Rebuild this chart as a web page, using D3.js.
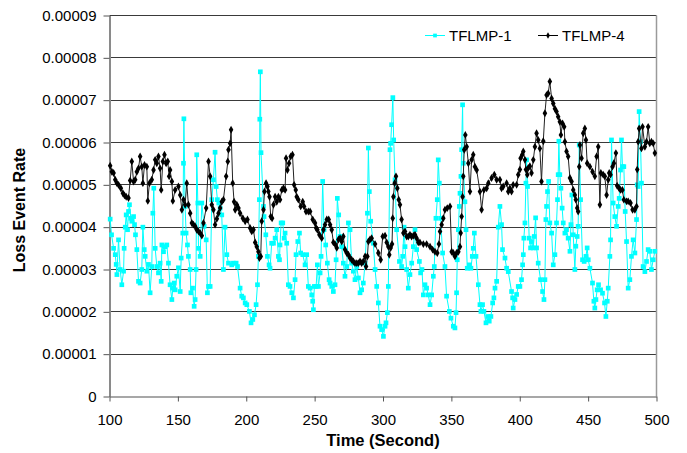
<!DOCTYPE html>
<html><head><meta charset="utf-8">
<script src="https://cdn.jsdelivr.net/npm/d3@7"></script>
<style>
html,body{margin:0;padding:0;background:#fff;}
svg{display:block;font-family:"Liberation Sans",Arial,Helvetica,sans-serif;}
</style></head><body>
<svg id="chart" width="687" height="453"></svg>
<script>
// ---------- data ----------
const xTicks = [100, 150, 200, 250, 300, 350, 400, 450, 500];
const yTicks = [0, 0.00001, 0.00002, 0.00003, 0.00004, 0.00005, 0.00006, 0.00007, 0.00008, 0.00009];
const yTickLabels = ["0", "0.00001", "0.00002", "0.00003", "0.00004", "0.00005", "0.00006", "0.00007", "0.00008", "0.00009"];
const seriesNames = ["TFLMP-1", "TFLMP-4"];
const xTitle = "Time (Second)";
const yTitle = "Loss Event Rate";

const tflmp1Time = [100.5,101.5,103,104.2,104.9,105.4,106.6,107.8,109,110.3,110.7,111.5,112.2,113.2,113.9,114.6,115.6,116.3,117.6,118.3,119,120,121.2,122.4,123.6,124.4,125.4,126.1,127.3,128.5,129.7,130.9,131.7,132.4,133.4,134.6,135.8,137,137.8,138.3,139.5,140.7,141.9,143.1,144.3,145.6,146.3,147.3,148,149.2,150.4,151.7,152.4,153.6,154.1,154.4,155.3,156,157,157.7,159,159.5,160.7,161.9,162.6,163.3,163.8,164.6,165.1,166.3,167.5,169.2,170.7,171.6,172.4,173.6,174.8,176,177.2,178,178.9,179.9,180.9,182.1,183.3,184.5,185.8,187,
189.4,190.6,192.6,193.6,195.5,196.7,197.9,199.2,200.4,202.3,203.5,204.8,206,207.2,208.2,208.9,209.6,209.9,210.3,210.8,212.6,213,214.3,215.5,216.7,217.4,218.6,219.9,221.1,222.3,223.5,224.3,224.7,225.5,226.7,227.7,228.4,229.6,230.8,232,233.3,234.5,235.7,236.4,237.7,238.9,239.8,241.3,243,244.2,245.4,246.7,247.9,248.6,249.1,249.8,251.1,252,252.8,254,254.7,255.9,256.9,258.1,259.3,260.6,261.3,262.5,263.7,264.9,265.7,266.6,267.6,268.6,269.8,271,272.2,273.5,274.7,275.9,277.1,278.3,279.5,280.8,282,
283.2,284.4,285.6,286.9,288.6,289.3,290,291,292.9,294.2,295.4,296.6,297.8,299,300.3,301.5,302.2,303.2,303.9,305.1,305.6,306.3,307.2,307.8,308.8,310,312,313.6,314.4,315.4,316.1,317.3,318.5,319.7,321,322.2,323.4,324.6,326.6,327.5,328.5,329.5,330.7,331.9,333.1,334.4,335.6,336.8,337.5,338.7,339.7,340.4,341.2,342.1,343.6,345.3,346.5,348.5,349.7,351.4,352.6,353.4,353.8,354.3,355.1,355.8,356.3,357,357.5,358.2,358.7,359.9,360.7,361.6,363.1,364.3,365.3,366,366.8,368,369.7,370.9,371.6,372.8,373.8,375.3,376.5,377.7,378.9,380.2,381.1,381.9,383.1,384.3,
385.5,386.7,387.4,389.2,390.4,391.6,394,394.8,395.2,396.5,397.7,398.9,400.1,401.3,402.1,402.6,403,403.8,404.5,405,405.7,406.9,407.9,408.6,409.9,410.6,411.6,412.3,413.5,415.2,416.7,417.7,418.4,419.1,419.6,420.3,421.1,422,423.3,424.5,425.7,426.9,427.6,428.1,428.6,429.3,430.1,431,431.8,433,434.2,435.4,436.7,437.4,438.1,439.1,440.3,441,442,442.7,443.5,444.5,445.9,447.1,448.4,449.3,450.1,451.3,453.2,454.2,454.9,455.7,456.6,457.6,459.1,460.5,462,463,464,464.7,465.9,466.4,467.1,468.3,469.5,470.8,472,472.7,473.7,474.4,475.1,476.1,477.1,478.1,479.3,480.5,481.7,482.9,484.2,485.4,485.9,486.6,487.3,488.3,489,490.2,491.5,492.7,493.9,495.1,496.3,497.6,498.8];

const tflmp1Rate = [4.19e-5,3.82e-5,3.5e-5,3.35e-5,3.12e-5,2.88e-5,3.7e-5,3.0e-5,2.64e-5,2.96e-5,3.5e-5,4.0e-5,4.29e-5,3.94e-5,4.37e-5,4.53e-5,4.21e-5,4.14e-5,4.25e-5,4.06e-5,3.82e-5,3.47e-5,2.72e-5,2.68e-5,3.0e-5,4.0e-5,3.47e-5,3.31e-5,2.96e-5,3.12e-5,2.45e-5,3.07e-5,4.33e-5,4.92e-5,3.5e-5,3.07e-5,2.92e-5,3.15e-5,2.72e-5,3.58e-5,3.42e-5,3.54e-5,3.58e-5,3.15e-5,2.64e-5,2.29e-5,2.56e-5,2.68e-5,2.52e-5,2.84e-5,3.04e-5,2.48e-5,3.27e-5,3.86e-5,5.51e-5,6.56e-5,4.49e-5,3.86e-5,3.58e-5,3.31e-5,3.0e-5,2.45e-5,2.56e-5,2.13e-5,2.29e-5,3.0e-5,5.71e-5,4.57e-5,3.5e-5,3.31e-5,4.57e-5,4.02e-5,3.7e-5,2.45e-5,2.6e-5,2.6e-5,4.65e-5,5.12e-5,5.77e-5,4.96e-5,4.65e-5,4.57e-5,4.45e-5,4.29e-5,3.0e-5,4.0e-5,3.35e-5,3.15e-5,
3.11e-5,3.15e-5,3.15e-5,3.07e-5,2.56e-5,2.37e-5,2.33e-5,2.21e-5,2.17e-5,2.01e-5,1.74e-5,1.82e-5,1.93e-5,2.17e-5,2.64e-5,3.31e-5,4.65e-5,6.55e-5,7.67e-5,5.76e-5,4.49e-5,4.25e-5,3.82e-5,3.31e-5,3.11e-5,3.03e-5,3.62e-5,3.62e-5,3.74e-5,3.94e-5,3.31e-5,3.23e-5,3.58e-5,4.1e-5,4.1e-5,3.74e-5,3.86e-5,3.62e-5,2.64e-5,2.6e-5,2.45e-5,2.33e-5,2.76e-5,3.35e-5,3.66e-5,3.86e-5,3.39e-5,3.35e-5,3.11e-5,3.35e-5,2.6e-5,2.56e-5,2.4e-5,2.25e-5,2.05e-5,2.6e-5,2.6e-5,3.11e-5,2.6e-5,2.92e-5,3.31e-5,5.08e-5,3.94e-5,3.58e-5,3.15e-5,2.76e-5,2.68e-5,2.6e-5,2.48e-5,2.64e-5,3.23e-5,4.68e-5,4.29e-5,3.78e-5,3.54e-5,3.15e-5,2.84e-5,3.07e-5,4.1e-5,3.94e-5,3.15e-5,2.96e-5,2.76e-5,3.07e-5,2.8e-5,
2.45e-5,2.52e-5,2.68e-5,3.15e-5,4.33e-5,5.87e-5,4.84e-5,4.14e-5,3.62e-5,3.0e-5,2.6e-5,2.21e-5,1.66e-5,1.58e-5,1.42e-5,1.66e-5,1.74e-5,1.98e-5,2.6e-5,5.83e-5,5.98e-5,6.42e-5,7.06e-5,6.06e-5,5.12e-5,3.94e-5,3.19e-5,3.07e-5,3.31e-5,4.0e-5,3.54e-5,3.0e-5,2.56e-5,2.88e-5,3.15e-5,3.54e-5,3.94e-5,3.47e-5,3.19e-5,2.92e-5,3.0e-5,2.4e-5,2.64e-5,2.56e-5,2.4e-5,2.17e-5,2.4e-5,2.84e-5,3.07e-5,4.21e-5,4.65e-5,5.59e-5,5.04e-5,4.21e-5,3.39e-5,3.07e-5,2.37e-5,2.01e-5,1.85e-5,1.66e-5,1.62e-5,1.98e-5,2.45e-5,3.23e-5,3.94e-5,4.49e-5,4.8e-5,5.2e-5,5.83e-5,6.89e-5,5.51e-5,4.6e-5,3.94e-5,3.03e-5,3.11e-5,3.03e-5,3.31e-5,3.5e-5,3.86e-5,3.31e-5,2.64e-5,2.17e-5,2.01e-5,2.17e-5,2.01e-5,1.74e-5,1.89e-5,1.78e-5,1.89e-5,2.21e-5,2.33e-5,2.56e-5,2.72e-5,4.0e-5,
4.49e-5,4.06e-5,3.47e-5,3.27e-5,3.03e-5,2.95e-5,2.48e-5,2.33e-5,2.09e-5,2.29e-5,2.41e-5,2.6e-5,2.6e-5,2.76e-5,3.11e-5,3.35e-5,3.74e-5,4.1e-5,5.04e-5,5.59e-5,4.96e-5,3.74e-5,3.51e-5,3.66e-5,3.51e-5,3.78e-5,4.22e-5,3.51e-5,3.15e-5,2.76e-5,2.48e-5,2.29e-5,2.76e-5,4.18e-5,4.49e-5,4.84e-5,5.08e-5,4.1e-5,3.86e-5,3.11e-5,3.35e-5,4.1e-5,4.65e-5,5.24e-5,6.03e-5,5.24e-5,4.92e-5,4.45e-5,4.1e-5,3.86e-5,3.94e-5,3.74e-5,3.43e-5,4.06e-5,4.76e-5,3.82e-5,3.0e-5,3.55e-5,3.78e-5,4.02e-5,5.94e-5,4.65e-5,3.23e-5,3.19e-5,3.31e-5,3.51e-5,3.23e-5,3.03e-5,2.68e-5,2.25e-5,2.09e-5,2.29e-5,2.52e-5,2.64e-5,2.52e-5,2.44e-5,2.21e-5,1.89e-5,2.25e-5,2.56e-5,3.31e-5,3.7e-5,6.06e-5,4.57e-5,4.25e-5,4.02e-5,4.49e-5,4.68e-5,5.35e-5,6.06e-5,5.43e-5,5.43e-5,4.37e-5,3.66e-5,2.56e-5,2.76e-5,3.31e-5,3.7e-5,3.39e-5,4.18e-5,5.0e-5,4.96e-5,6.73e-5,6.02e-5,5.04e-5,3.07e-5,2.95e-5,3.19e-5,3.47e-5,3.43e-5,3.0e-5,3.23e-5,3.43e-5];

const tflmp4Time = [100.5,101.7,103,104.2,105.4,106.6,108.3,109.8,111,112.2,113.9,115.1,116.3,117.6,118.8,120,121.2,122.4,123.6,124.4,125.6,127.3,128,129.2,130.9,132.2,133.4,134.6,135.8,137,137.8,139,140.2,141.4,142.6,143.6,144.3,145.6,146.3,148,150.4,151.7,152.9,154.1,155.3,156.5,157.7,159,160.2,161.4,162.6,163.8,165.1,166.3,167.5,168.7,170.7,172.4,173.6,174.8,176,177.2,178.5,179.7,180.9,182.1,183.3,185.3,186.5,187,188.2,188.9,
190.1,191.1,191.9,193.1,194.3,195.5,197.5,199.2,200.9,202.8,204,205.3,206.5,207.7,208.9,209.6,210.6,211.3,212.6,213.3,214.5,215.5,216.2,217,217.9,218.9,219.9,221.1,222.3,223.5,224.7,226,227.2,228.4,229.1,230.1,231.3,232.5,233.8,235,236.2,236.9,238.1,239.8,241.3,242.3,243.7,245.4,246.7,248.6,250.3,251.1,252,253.5,255.2,256.4,257.6,258.9,260.3,261.3,262.5,263.7,264.9,266.2,267.4,268.6,269.8,271,272.2,273.5,274.7,275.9,277.1,278.3,279.5,280.8,282,
283.2,284.4,285.6,286.9,287.6,288.6,289.3,290.5,291.7,294.2,296.6,298.3,299.8,301.5,302.7,303.9,304.6,305.6,306.6,307.1,307.6,308.5,309.5,310.5,311.5,312.4,313.6,314.9,316.1,317.3,318.5,319.7,320.9,322.2,323.4,324.6,325.8,327,329.5,331.9,334.4,336.3,338,339.7,340.9,341.7,342.9,344.1,345.3,347,349,350.2,351.4,352.6,353.8,355.1,356.3,356.8,357.5,358.2,358.7,359.4,360.2,361.2,362.4,363.6,364.8,366,367.2,368.5,370.9,372.1,373.8,375.8,377,379.4,381.4,383.1,
385.5,386.7,387.9,390.4,391.6,392.8,394,395.2,397.7,398.9,400.1,400.6,401.8,402.6,403.8,404.5,405.5,406.2,407.4,408.6,409.9,411.1,412.3,413.5,414.7,415.9,417.2,418.4,419.6,420.8,422,423.3,424.5,425.7,426.9,428.1,429.3,430.1,431.3,432.5,433,434.2,435.4,436.7,437.9,439.1,440.3,441,442,442.7,443.5,444,445.2,446.4,447.6,448.4,449.3,451.3,453.2,454.9,456.2,457.4,458.6,459.3,461,462.2,463.5,464.7,465.4,466.4,467.8,468.8,470.3,471.2,472.7,473.7,475.1,476.1,478.1,479.3,481,482.5,484.2,485.4,485.9,486.6,487.3,489,489.8,491.5,492.7,493.9,495.1,496.3,497.6,498.8];

const tflmp4Rate = [5.45e-5,5.31e-5,5.28e-5,5.12e-5,5.04e-5,5.0e-5,4.92e-5,4.8e-5,4.75e-5,4.72e-5,4.69e-5,5.1e-5,5.55e-5,5.08e-5,5.12e-5,5.31e-5,5.39e-5,5.67e-5,5.43e-5,5.04e-5,5.47e-5,5.43e-5,4.62e-5,5.04e-5,5.12e-5,5.35e-5,5.59e-5,5.51e-5,5.67e-5,5.39e-5,4.88e-5,5.55e-5,5.71e-5,5.51e-5,5.55e-5,5.2e-5,5.35e-5,5.08e-5,4.62e-5,4.88e-5,4.96e-5,4.76e-5,4.41e-5,4.65e-5,4.53e-5,5.04e-5,4.53e-5,4.33e-5,4.1e-5,4.06e-5,4.02e-5,3.94e-5,3.9e-5,3.86e-5,3.8e-5,4.1e-5,4.45e-5,5.55e-5,5.2e-5,4.53e-5,4.41e-5,4.06e-5,4.2e-5,4.33e-5,4.45e-5,4.6e-5,4.65e-5,5.2e-5,5.55e-5,5.83e-5,5.98e-5,6.3e-5,
5.04e-5,4.6e-5,4.41e-5,4.53e-5,4.45e-5,4.33e-5,4.21e-5,4.14e-5,4.18e-5,3.98e-5,3.9e-5,3.94e-5,3.64e-5,3.54e-5,3.42e-5,3.27e-5,3.31e-5,4.14e-5,4.41e-5,4.84e-5,5.04e-5,4.96e-5,4.84e-5,4.72e-5,4.25e-5,4.21e-5,4.53e-5,4.72e-5,4.6e-5,4.72e-5,4.65e-5,4.88e-5,4.92e-5,4.88e-5,5.63e-5,5.35e-5,5.51e-5,5.67e-5,5.71e-5,5.0e-5,4.88e-5,4.72e-5,4.65e-5,4.49e-5,4.6e-5,4.49e-5,4.37e-5,4.37e-5,4.37e-5,4.18e-5,4.1e-5,3.98e-5,3.94e-5,3.82e-5,3.74e-5,3.94e-5,4.06e-5,4.18e-5,4.18e-5,4.06e-5,3.94e-5,3.64e-5,3.6e-5,3.51e-5,3.71e-5,3.74e-5,3.66e-5,3.78e-5,3.47e-5,3.39e-5,3.35e-5,3.27e-5,3.23e-5,3.19e-5,3.15e-5,3.15e-5,3.15e-5,
3.19e-5,3.15e-5,3.19e-5,3.31e-5,3.07e-5,3.31e-5,3.66e-5,3.71e-5,3.74e-5,3.6e-5,3.39e-5,3.23e-5,3.78e-5,3.8e-5,3.64e-5,3.54e-5,3.35e-5,3.51e-5,3.6e-5,4.21e-5,4.72e-5,5.04e-5,5.2e-5,4.92e-5,4.65e-5,4.53e-5,4.18e-5,3.86e-5,3.9e-5,3.78e-5,3.78e-5,3.82e-5,3.78e-5,3.8e-5,3.82e-5,3.74e-5,3.64e-5,3.64e-5,3.6e-5,3.6e-5,3.54e-5,3.47e-5,3.42e-5,3.39e-5,3.6e-5,3.9e-5,4.06e-5,4.21e-5,4.41e-5,4.45e-5,4.49e-5,3.42e-5,3.39e-5,3.31e-5,3.39e-5,3.42e-5,3.54e-5,3.86e-5,4.25e-5,4.72e-5,5.2e-5,5.83e-5,6.18e-5,5.9e-5,5.51e-5,4.84e-5,5.59e-5,5.71e-5,5.43e-5,5.35e-5,4.84e-5,4.41e-5,4.88e-5,4.92e-5,5.04e-5,5.16e-5,5.24e-5,5.12e-5,
5.12e-5,4.92e-5,4.96e-5,5.04e-5,4.84e-5,4.92e-5,4.84e-5,5.0e-5,5.0e-5,5.24e-5,5.36e-5,5.63e-5,5.71e-5,5.79e-5,5.59e-5,5.36e-5,5.24e-5,5.4e-5,5.44e-5,5.28e-5,5.59e-5,5.9e-5,6.22e-5,6.06e-5,5.86e-5,5.08e-5,6.03e-5,6.69e-5,7.12e-5,7.16e-5,7.44e-5,7.04e-5,6.92e-5,6.8e-5,6.73e-5,6.61e-5,6.49e-5,6.18e-5,6.45e-5,6.37e-5,6.02e-5,5.79e-5,5.67e-5,5.16e-5,5.08e-5,4.88e-5,4.76e-5,4.65e-5,4.45e-5,4.37e-5,5.43e-5,5.94e-5,5.63e-5,6.22e-5,6.33e-5,6.06e-5,5.51e-5,5.43e-5,5.31e-5,5.2e-5,5.67e-5,5.9e-5,4.53e-5,5.28e-5,5.24e-5,5.2e-5,4.76e-5,5.12e-5,5.28e-5,5.24e-5,5.43e-5,5.51e-5,5.75e-5,4.98e-5,4.92e-5,4.88e-5,4.88e-5,4.65e-5,4.61e-5,4.61e-5,4.57e-5,4.41e-5,4.41e-5,4.49e-5,5.36e-5,6.02e-5,6.33e-5,5.86e-5,6.37e-5,5.9e-5,6.02e-5,6.37e-5,5.98e-5,6.02e-5,5.98e-5,5.75e-5];

// ---------- layout ----------
const W = 687, H = 453;
const plot = {left: 109.5, right: 656.5, top: 15.5, bottom: 396.5};
const FONT = '"Liberation Sans", Arial, Helvetica, sans-serif';

const x = d3.scaleLinear().domain([100, 500]).range([plot.left, plot.right]);
const y = d3.scaleLinear().domain([0, 0.00009]).range([plot.bottom, plot.top]);

const svg = d3.select("#chart");
svg.append("rect").attr("width", W).attr("height", H).attr("fill", "#ffffff");

// gridlines
const crisp = v => Math.round(v - 0.5) + 0.5;
svg.append("g").selectAll("line").data(yTicks.slice(1)).join("line")
  .attr("x1", plot.left).attr("x2", plot.right)
  .attr("y1", d => crisp(y(d))).attr("y2", d => crisp(y(d)))
  .attr("stroke", "#3a3a3a").attr("stroke-width", 1);

// right border
svg.append("line").attr("x1", plot.right).attr("x2", plot.right)
  .attr("y1", plot.top).attr("y2", plot.bottom)
  .attr("stroke", "#9a9a9a").attr("stroke-width", 1.5);

// axes
const yAxis = d3.axisLeft(y).tickValues(yTicks)
  .tickFormat((d, i) => yTickLabels[i]).tickSize(6).tickSizeOuter(0).tickPadding(7);
const gy = svg.append("g").attr("transform", `translate(${plot.left},0)`).call(yAxis);
gy.select(".domain").attr("stroke", "#8a8a8a").attr("stroke-width", 2);
gy.selectAll(".tick line").attr("stroke", "#555");
gy.selectAll(".tick text").attr("font-family", FONT).attr("font-size", 15).attr("fill", "#000");

const xAxis = d3.axisBottom(x).tickValues(xTicks).tickSize(5).tickSizeOuter(0).tickPadding(13);
const gx = svg.append("g").attr("transform", `translate(0,${plot.bottom})`).call(xAxis);
gx.select(".domain").attr("stroke", "#8a8a8a").attr("stroke-width", 1.5);
gx.selectAll(".tick line").attr("stroke", "#555");
gx.selectAll(".tick text").attr("font-family", FONT).attr("font-size", 15).attr("fill", "#000");

// series
const s1 = tflmp1Time.map((t, i) => ({t, v: tflmp1Rate[i]}));
const s4 = tflmp4Time.map((t, i) => ({t, v: tflmp4Rate[i]}));
const line = d3.line().x(d => x(d.t)).y(d => y(d.v));

const cyan = "#00ffff";
svg.append("path").datum(s1).attr("d", line)
  .attr("fill", "none").attr("stroke", cyan).attr("stroke-width", 1);
const sq = d3.symbol().type(d3.symbolSquare).size(22);
svg.append("g").selectAll("path").data(s1).join("path")
  .attr("d", sq).attr("transform", d => `translate(${x(d.t)},${y(d.v)})`)
  .attr("fill", cyan);

svg.append("path").datum(s4).attr("d", line)
  .attr("fill", "none").attr("stroke", "#222").attr("stroke-width", 1);
const dia = d3.symbol().type(d3.symbolDiamond).size(18);
svg.append("g").selectAll("path").data(s4).join("path")
  .attr("d", dia).attr("transform", d => `translate(${x(d.t)},${y(d.v)})`)
  .attr("fill", "#000");

// legend
const leg = svg.append("g");
const legItems = [
  {name: seriesNames[0], x0: 425, color: cyan, sym: d3.symbol().type(d3.symbolSquare).size(14)},
  {name: seriesNames[1], x0: 538, color: "#000", sym: d3.symbol().type(d3.symbolDiamond).size(12)}
];
legItems.forEach(it => {
  leg.append("line").attr("x1", it.x0).attr("x2", it.x0 + 20).attr("y1", 35.5).attr("y2", 35.5)
    .attr("stroke", it.color).attr("stroke-width", 1);
  leg.append("path").attr("d", it.sym).attr("transform", `translate(${it.x0 + 10},35.5)`).attr("fill", it.color);
  leg.append("text").attr("x", it.x0 + 24).attr("y", 41).text(it.name)
    .attr("font-family", FONT).attr("font-size", 15).attr("fill", "#000");
});

// titles
svg.append("text").attr("x", 383).attr("y", 446).attr("text-anchor", "middle")
  .attr("font-family", FONT).attr("font-size", 16.5).attr("font-weight", "bold").text(xTitle);
svg.append("text").attr("transform", "translate(25,210) rotate(-90)").attr("text-anchor", "middle")
  .attr("font-family", FONT).attr("font-size", 16).attr("font-weight", "bold").text(yTitle);
</script>
</body></html>
